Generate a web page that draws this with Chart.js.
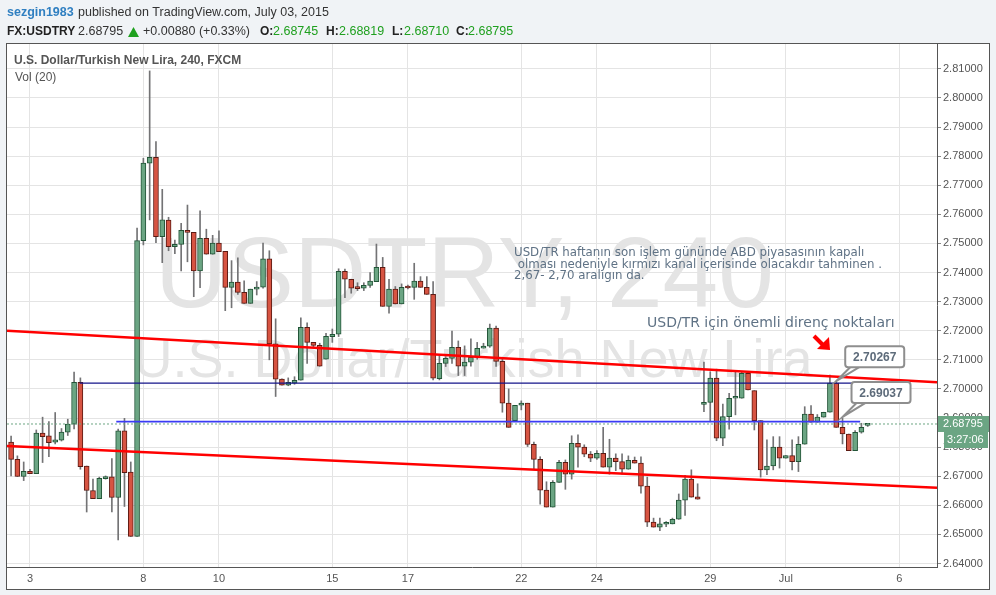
<!DOCTYPE html>
<html lang="tr">
<head>
  <meta charset="UTF-8">
  <title>USDTRY 240</title>
  <script src="https://cdn.jsdelivr.net/npm/chart.js"></script>
  <style>
    html, body { margin: 0; padding: 0; background: #f0f3f6; }
    #wrap { width: 996px; height: 595px; }
  </style>
</head>
<body>
  <div id="wrap"><canvas id="chart" width="996" height="595"></canvas></div>
  <script>
    // 4h candles, index 0 = Jun 2 (late), 6 candles per trading day
    const opens = [2.6817,2.6758,2.6699,2.6717,2.6709,2.6848,2.6839,2.6817,2.6824,2.6851,
      2.6879,2.7023,2.6735,2.6651,2.6623,2.6692,2.6698,2.6627,2.6856,2.6714,
      2.6493,2.7510,2.7776,2.7796,2.7523,2.7580,2.7489,2.7497,2.7545,2.7538,
      2.7406,2.7518,2.7463,2.7501,2.7473,2.7349,2.7367,2.7332,2.7294,2.7343,
      2.7350,2.7447,2.7155,2.7034,2.7013,2.7020,2.7030,2.7212,2.7160,2.7150,
      2.7102,2.7180,2.7188,2.7404,2.7377,2.7347,2.7346,2.7356,2.7369,2.7418,
      2.7284,2.7343,2.7292,2.7350,2.7349,2.7371,2.7349,2.7325,2.7035,2.7088,
      2.7105,2.7143,2.7078,2.7092,2.7109,2.7140,2.7147,2.7209,2.7095,2.6951,
      2.6891,2.6944,2.6951,2.6810,2.6758,2.6652,2.6594,2.6679,2.6748,2.6707,
      2.6813,2.6800,2.6776,2.6762,2.6779,2.6731,2.6762,2.6750,2.6724,2.6755,
      2.6745,2.6666,2.6542,2.6525,2.6535,2.6536,2.6552,2.6618,2.6690,2.6629,
      2.6947,2.6954,2.7037,2.6831,2.6905,2.6968,2.6968,2.7054,2.6994,2.6891,
      2.6722,2.6735,2.6800,2.6762,2.6771,2.6750,2.6810,2.6914,2.6886,2.6903,
      2.6920,2.7020,2.6868,2.6845,2.6788,2.6851,2.68745];
    const highs = [2.6838,2.6770,2.6749,2.6724,2.6859,2.6903,2.6888,2.6919,2.6864,2.6896,
      2.7058,2.7038,2.6735,2.6690,2.6697,2.6701,2.6761,2.6862,2.6899,2.6749,
      2.7553,2.7793,2.8093,2.7850,2.7686,2.7590,2.7512,2.7569,2.7632,2.7538,
      2.7612,2.7549,2.7528,2.7543,2.7473,2.7441,2.7451,2.7372,2.7343,2.7369,
      2.7501,2.7475,2.7241,2.7035,2.7038,2.7042,2.7244,2.7227,2.7160,2.7157,
      2.7191,2.7206,2.7413,2.7412,2.7377,2.7365,2.7365,2.7400,2.7498,2.7452,
      2.7377,2.7352,2.7361,2.7357,2.7432,2.7386,2.7386,2.7369,2.7114,2.7111,
      2.7199,2.7165,2.7148,2.7172,2.7160,2.7157,2.7223,2.7216,2.7102,2.7000,
      2.6944,2.6959,2.6951,2.6817,2.6767,2.6681,2.6685,2.6755,2.6756,2.6839,
      2.6842,2.6808,2.6785,2.6788,2.6868,2.6827,2.6777,2.6777,2.6770,2.6766,
      2.6767,2.6697,2.6556,2.6556,2.6544,2.6556,2.6639,2.6703,2.6722,2.6674,
      2.7092,2.7059,2.7068,2.6948,2.6985,2.7059,2.7059,2.7059,2.6994,2.6891,
      2.6825,2.6836,2.6836,2.6771,2.6825,2.6836,2.6939,2.6943,2.6912,2.6920,
      2.7048,2.70267,2.6899,2.6845,2.6857,2.6882,2.68819];
    const lows = [2.6701,2.6699,2.6685,2.6709,2.6709,2.6747,2.6767,2.6811,2.6821,2.6840,
      2.6863,2.6724,2.6577,2.6623,2.6623,2.6690,2.6577,2.6481,2.6596,2.6493,
      2.6493,2.7495,2.7581,2.7503,2.7434,2.7475,2.7465,2.7406,2.7437,2.7317,
      2.7348,2.7463,2.7463,2.7472,2.7269,2.7279,2.7325,2.7294,2.7294,2.7323,
      2.7346,2.7100,2.6974,2.7013,2.7011,2.7016,2.7030,2.7088,2.7145,2.7078,
      2.7102,2.7160,2.7180,2.7314,2.7329,2.7338,2.7338,2.7349,2.7369,2.7284,
      2.7260,2.7292,2.7292,2.7344,2.7308,2.7349,2.7325,2.7031,2.7031,2.7077,
      2.7088,2.7046,2.7046,2.7078,2.7102,2.7140,2.7143,2.7077,2.6920,2.6868,
      2.6891,2.6928,2.6802,2.6724,2.6604,2.6594,2.6594,2.6679,2.6655,2.6690,
      2.6731,2.6767,2.6750,2.6758,2.6731,2.6707,2.6719,2.6707,2.6724,2.6745,
      2.6642,2.6527,2.6525,2.6513,2.6527,2.6536,2.6552,2.6565,2.6628,2.6621,
      2.6922,2.6891,2.6822,2.6805,2.6862,2.6911,2.6968,2.6997,2.6859,2.6697,
      2.6705,2.6722,2.6728,2.6762,2.6722,2.6716,2.6810,2.6886,2.6886,2.6903,
      2.6920,2.6868,2.6811,2.6788,2.6788,2.6848,2.68710];
    const closes = [2.6758,2.6699,2.6717,2.6709,2.6848,2.6836,2.6815,2.6825,2.6852,2.6879,
      2.7023,2.6733,2.6651,2.6623,2.6693,2.6699,2.6627,2.6856,2.6712,2.6493,
      2.7510,2.7776,2.7796,2.7523,2.7581,2.7489,2.7497,2.7545,2.7538,2.7406,
      2.7518,2.7463,2.7501,2.7472,2.7349,2.7367,2.7332,2.7294,2.7343,2.7350,
      2.7447,2.7155,2.7034,2.7013,2.7023,2.7030,2.7212,2.7160,2.7150,2.7078,
      2.7181,2.7188,2.7404,2.7377,2.7346,2.7345,2.7356,2.7371,2.7418,2.7284,
      2.7343,2.7292,2.7349,2.7347,2.7371,2.7349,2.7325,2.7037,2.7088,2.7105,
      2.7143,2.7078,2.7092,2.7109,2.7140,2.7147,2.7209,2.7095,2.6951,2.6868,
      2.6944,2.6951,2.6809,2.6758,2.6652,2.6594,2.6679,2.6748,2.6707,2.6813,
      2.6800,2.6776,2.6762,2.6779,2.6731,2.6762,2.6750,2.6724,2.6755,2.6745,
      2.6666,2.6542,2.6525,2.6536,2.6537,2.6552,2.6618,2.6690,2.6628,2.6621,
      2.6954,2.7037,2.6831,2.6905,2.6968,2.6970,2.7054,2.6997,2.6891,2.6722,
      2.6735,2.6800,2.6762,2.6771,2.6750,2.6810,2.6914,2.6886,2.6903,2.6920,
      2.7020,2.6868,2.6845,2.6788,2.6851,2.6868,2.68795];

    const dayTicks = [3, 21, 33, 51, 63, 81, 93, 111, 123, 141];
    const dayLabels = ['3', '8', '10', '15', '17', '22', '24', '29', 'Jul', '6'];
    const priceTicks = [2.64, 2.65, 2.66, 2.67, 2.68, 2.69, 2.70, 2.71, 2.72, 2.73,
      2.74, 2.75, 2.76, 2.77, 2.78, 2.79, 2.80, 2.81];

    // drawn lines (candle index, price)
    const upperChannel = [[-0.65, 2.7200], [147, 2.7023]];
    const lowerChannel = [[-0.65, 2.6804], [147, 2.6660]];
    const resistLine = [[10.9, 2.7020], [134.3, 2.7020]];
    const supportLine = [[16.7, 2.6888], [134.8, 2.6888]];
    const lastPrice = 2.68795;
    const callouts = [{ i: 131, v: 2.70267, text: '2.70267' }, { i: 132, v: 2.69037, text: '2.69037' }];

    const upFill = '#6ba583', upLine = '#225437', downFill = '#d75442', downLine = '#5b1a13';
    const isUp = closes.map((c, i) => c >= opens[i]);
    const pts = arr => arr.map(p => ({ x: p[0], y: p[1] }));
    const FONT = '"Liberation Sans", Arial, sans-serif';

    const overlay = {
      id: 'overlay',
      beforeDraw(chart) {
        const c = chart.ctx;
        c.save();
        c.fillStyle = '#f0f3f6';
        c.fillRect(0, 0, 996, 595);
        c.fillStyle = '#ffffff';
        c.fillRect(7, 43, 983, 547);
        c.restore();
      },
      beforeDatasetsDraw(chart) {
        const c = chart.ctx, a = chart.chartArea;
        c.save();
        c.beginPath();
        c.rect(a.left, a.top, a.right - a.left, a.bottom - a.top);
        c.clip();
        c.fillStyle = '#e4e4e4';
        c.textBaseline = 'alphabetic';
        c.textAlign = 'left';
        c.font = '100px ' + FONT;
        c.fillText('USDTRY, 240', 155, 307);
        c.textAlign = 'center';
        c.font = '54px ' + FONT;
        c.fillText('U.S. Dollar/Turkish New Lira', 473, 377);
        c.restore();
      },
      afterDraw(chart) {
        const c = chart.ctx;
        const xs = chart.scales.x, ys = chart.scales.y;
        c.save();
        // frame
        c.strokeStyle = '#555';
        c.lineWidth = 1;
        c.strokeRect(6.5, 43.5, 983, 546);

        // header
        c.textBaseline = 'middle';
        c.textAlign = 'left';
        c.font = 'bold 12.5px ' + FONT;
        c.fillStyle = '#2f7fc1';
        c.fillText('sezgin1983', 7, 12.5);
        c.font = '12.5px ' + FONT;
        c.fillStyle = '#333';
        c.fillText('published on TradingView.com, July 03, 2015', 78, 12.5);

        const seg = (t, x, bold, col) => {
          c.font = (bold ? 'bold 12px ' : '12.5px ') + FONT;
          c.fillStyle = col;
          c.fillText(t, x, 32);
        };
        seg('FX:USDTRY', 7, true, '#222');
        seg('2.68795', 78, false, '#333');
        c.fillStyle = '#1fa01f';
        c.beginPath();
        c.moveTo(128, 37); c.lineTo(139, 37); c.lineTo(133.5, 27); c.closePath(); c.fill();
        seg('+0.00880 (+0.33%)', 143, false, '#333');
        seg('O:', 260, true, '#222');
        seg('2.68745', 273, false, '#1fa01f');
        seg('H:', 326, true, '#222');
        seg('2.68819', 339, false, '#1fa01f');
        seg('L:', 392, true, '#222');
        seg('2.68710', 404, false, '#1fa01f');
        seg('C:', 456, true, '#222');
        seg('2.68795', 468, false, '#1fa01f');

        // pane titles
        c.font = 'bold 12px ' + FONT;
        c.fillStyle = '#555';
        c.fillText('U.S. Dollar/Turkish New Lira, 240, FXCM', 14, 61);
        c.font = '12px ' + FONT;
        c.fillText('Vol (20)', 15, 78);

        // notes
        c.fillStyle = '#5f7285';
        c.font = '11.8px "DejaVu Sans", Verdana, sans-serif';
        c.fillText('USD/TR haftanın son işlem gününde ABD piyasasının kapalı', 514, 253);
        c.fillText(' olması nedeniyle kırmızı kanal içerisinde olacakdır tahminen .', 514, 264.5);
        c.fillText('2,67- 2,70 aralıgın da.', 514, 276);
        c.font = '14px "DejaVu Sans", Verdana, sans-serif';
        c.fillText('USD/TR için önemli direnç noktaları', 647, 323);

        // red arrow
        c.fillStyle = '#ff0000';
        c.strokeStyle = '#ff0000';
        c.lineWidth = 4;
        c.beginPath(); c.moveTo(814, 336); c.lineTo(823, 345); c.stroke();
        c.beginPath(); c.moveTo(830, 350); c.lineTo(817, 349); c.lineTo(829, 337); c.closePath(); c.fill();

        // callouts
        callouts.forEach(cl => {
          const tx = xs.getPixelForValue(cl.i), ty = ys.getPixelForValue(cl.v);
          const bx = tx + 9, by = ty - 35, bw = 59, bh = 21;
          c.lineWidth = 2;
          c.strokeStyle = '#8e8e8e';
          c.fillStyle = '#fff';
          c.beginPath();
          c.moveTo(bx + 5, by + bh); c.lineTo(tx, ty); c.lineTo(bx + 14, by + bh);
          c.fill(); c.stroke();
          c.beginPath();
          c.roundRect(bx, by, bw, bh, 3);
          c.fill(); c.stroke();
          c.fillStyle = '#5d6b7a';
          c.font = 'bold 12px ' + FONT;
          c.textAlign = 'center';
          c.fillText(cl.text, bx + bw / 2, by + bh / 2 + 1);
          c.textAlign = 'left';
        });

        // last price labels on the axis
        const py = ys.getPixelForValue(lastPrice);
        c.fillStyle = upFill;
        c.fillRect(938, py - 8, 51, 16);
        c.fillRect(944, py + 8, 44, 16);
        c.fillStyle = '#fff';
        c.font = '11px ' + FONT;
        c.fillText(lastPrice.toFixed(5), 943, py);
        c.fillText('3:27:06', 947, py + 16);
        c.restore();
      }
    };

    new Chart(document.getElementById('chart'), {
      type: 'bar',
      data: {
        datasets: [
          {
            label: 'wick',
            data: highs.map((h, i) => ({ x: i, y: [lows[i], h] })),
            backgroundColor: '#737375',
            borderWidth: 0,
            barThickness: 1,
            grouped: false,
            order: 3
          },
          {
            label: 'body',
            data: opens.map((o, i) => ({ x: i, y: [o, closes[i]] })),
            backgroundColor: isUp.map(u => u ? upFill : downFill),
            borderColor: isUp.map(u => u ? upLine : downLine),
            borderWidth: 1,
            borderSkipped: false,
            barThickness: 5,
            minBarLength: 2,
            grouped: false,
            order: 2
          },
          {
            type: 'line', label: 'resist', data: pts(resistLine),
            borderColor: '#14148a', borderWidth: 1.2, pointRadius: 0, order: 1
          },
          {
            type: 'line', label: 'support', data: pts(supportLine),
            borderColor: '#3a3af5', borderWidth: 1.8, pointRadius: 0, order: 1
          },
          {
            type: 'line', label: 'last', data: [{ x: -0.65, y: lastPrice }, { x: 147, y: lastPrice }],
            borderColor: upFill, borderWidth: 1, borderDash: [2, 2], pointRadius: 0, order: 1
          },
          {
            type: 'line', label: 'upper', data: pts(upperChannel),
            borderColor: '#ff0000', borderWidth: 2.5, pointRadius: 0, order: 0
          },
          {
            type: 'line', label: 'lower', data: pts(lowerChannel),
            borderColor: '#ff0000', borderWidth: 2.5, pointRadius: 0, order: 0
          }
        ]
      },
      options: {
        responsive: false,
        animation: false,
        events: [],
        layout: { padding: { left: 7, top: 43, right: 6, bottom: 5 } },
        plugins: { legend: { display: false }, tooltip: { enabled: false } },
        scales: {
          x: {
            type: 'linear',
            min: -0.65,
            max: 147,
            offset: false,
            afterBuildTicks: s => { s.ticks = dayTicks.map(v => ({ value: v })); },
            afterFit: s => { s.height = 23; },
            grid: { color: '#e4e4e4', drawTicks: false, offset: false },
            border: { display: true, color: '#555' },
            ticks: {
              autoSkip: false, maxRotation: 0, padding: 5, color: '#555',
              font: { family: FONT, size: 11 },
              callback: v => { const k = dayTicks.indexOf(v); return k < 0 ? '' : dayLabels[k]; }
            }
          },
          y: {
            position: 'right',
            min: 2.6388,
            max: 2.8189,
            afterBuildTicks: s => { s.ticks = priceTicks.map(v => ({ value: v })); },
            afterFit: s => { s.width = 53; },
            grid: { color: '#e4e4e4', tickLength: 4, tickColor: '#888' },
            border: { display: true, color: '#555' },
            ticks: {
              padding: 2, color: '#555',
              font: { family: FONT, size: 11 },
              callback: v => v.toFixed(5)
            }
          }
        }
      },
      plugins: [overlay]
    });
  </script>
</body>
</html>
